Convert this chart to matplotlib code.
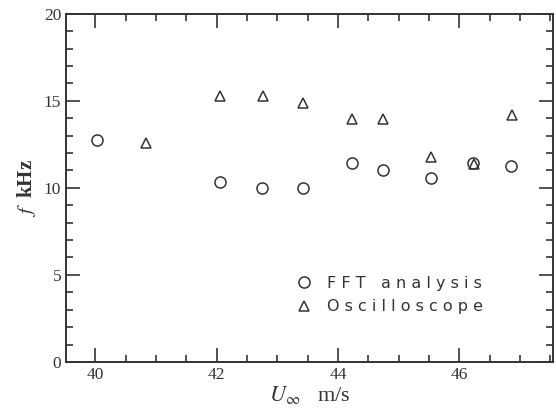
import matplotlib.pyplot as plt
from matplotlib.ticker import MultipleLocator

# ==========================
# DATA
# ==========================

fft_u = [40.03, 42.05, 42.75, 43.42, 44.23, 44.74, 45.53, 46.23, 46.85]
fft_f = [12.75, 10.35, 10.0, 10.0, 11.4, 11.05, 10.55, 11.4, 11.25]

osc_u = [40.84, 42.05, 42.76, 43.43, 44.23, 44.74, 45.53, 46.25, 46.87]
osc_f = [12.6, 15.3, 15.25, 14.85, 13.95, 13.95, 11.75, 11.35, 14.2]

x_ticks = [40, 42, 44, 46]
y_ticks = [0, 5, 10, 15, 20]

# ==========================
# FIGURE
# ==========================

plt.rcParams["font.family"] = ["Liberation Serif", "DejaVu Serif"]
plt.rcParams["mathtext.fontset"] = "stix"

fig = plt.figure(figsize=(5.56, 4.16), dpi=100)
ax = fig.add_axes([0.119, 0.13, 0.876, 0.837])

ax.plot(
    fft_u,
    fft_f,
    linestyle="none",
    marker="o",
    markersize=8,
    markerfacecolor="none",
    markeredgecolor="#333333",
    markeredgewidth=1.1,
    label="F F T   a n a l y s i s"
)

ax.plot(
    osc_u,
    osc_f,
    linestyle="none",
    marker="^",
    markersize=7,
    markerfacecolor="none",
    markeredgecolor="#333333",
    markeredgewidth=1.1,
    label="O s c i l l o s c o p e"
)

ax.set_xlim(39.52, 47.55)
ax.set_ylim(0, 20)

ax.set_xticks(x_ticks)
ax.set_yticks(y_ticks)
ax.xaxis.set_minor_locator(MultipleLocator(0.5))
ax.yaxis.set_minor_locator(MultipleLocator(1))

ax.tick_params(which="both", direction="in", top=True, right=True,
               labelsize=12.5, colors="#333333", width=1.2)
ax.tick_params(which="major", length=10)
ax.tick_params(which="minor", length=5)

for spine in ax.spines.values():
    spine.set_linewidth(1.4)
    spine.set_color("#333333")

ax.set_xlabel(r"$U_\infty$   m/s", fontsize=16, color="#333333", labelpad=1)
ax.set_ylabel(r"$f$  kHz", fontsize=15, color="#333333", fontweight="bold", labelpad=4)

leg = ax.legend(
    loc="lower left",
    bbox_to_anchor=(0.425, 0.095),
    frameon=False,
    handletextpad=0.5,
    labelspacing=0.55,
    prop={"family": "DejaVu Sans", "size": 11.5}
)
for t in leg.get_texts():
    t.set_color("#333333")

fig.savefig("out.png", dpi=100)
